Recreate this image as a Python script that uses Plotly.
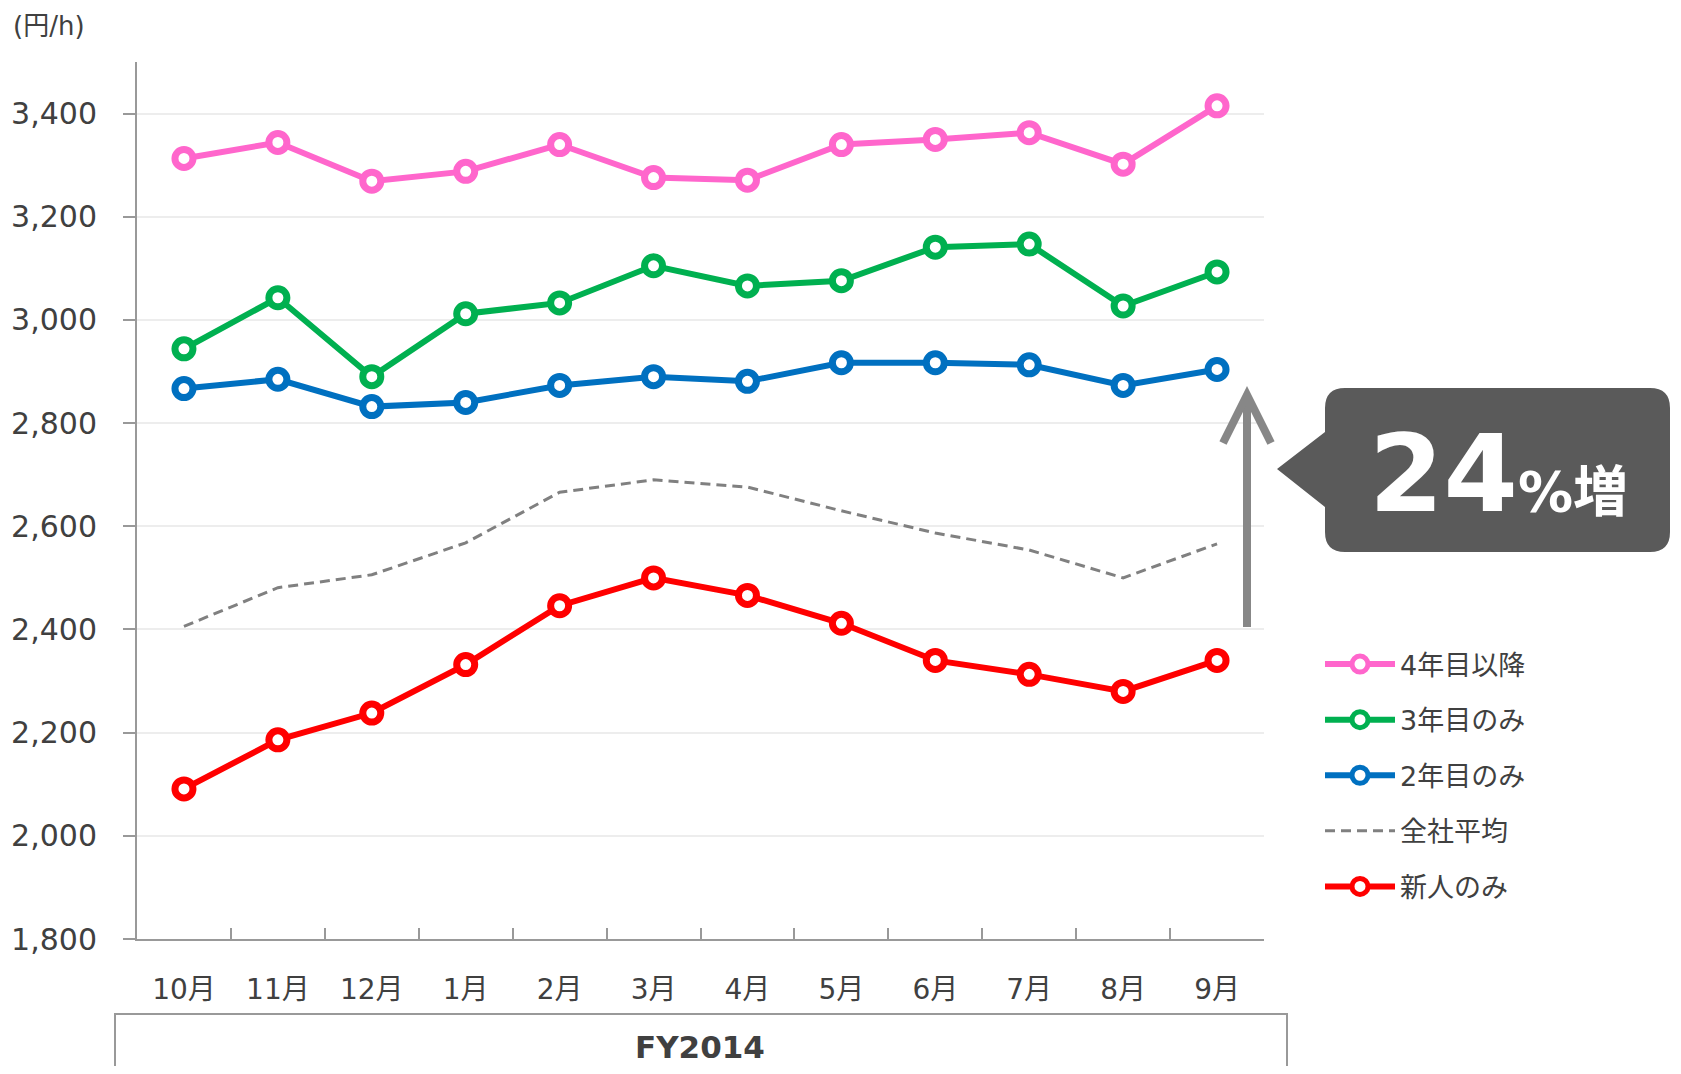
import plotly.graph_objects as go

# --- data ---
months = ["10月", "11月", "12月", "1月", "2月", "3月", "4月", "5月", "6月", "7月", "8月", "9月"]
yr4_plus = [3313, 3344, 3269, 3288, 3340, 3276, 3271, 3340, 3350, 3363, 3302, 3415]
yr3_only = [2944, 3043, 2890, 3012, 3033, 3105, 3066, 3076, 3141, 3147, 3027, 3093]
yr2_only = [2867, 2885, 2832, 2840, 2873, 2890, 2881, 2917, 2917, 2913, 2873, 2904]
company_avg = [2406, 2481, 2506, 2568, 2666, 2690, 2676, 2630, 2587, 2554, 2500, 2566]
newcomers = [2091, 2186, 2238, 2332, 2446, 2500, 2466, 2412, 2340, 2313, 2280, 2340]
y_ticks = [1800, 2000, 2200, 2400, 2600, 2800, 3000, 3200, 3400]

FONT = "DejaVu Sans, Noto Sans CJK JP"
TXT = "#404040"

# page body has an 8px margin, so the figure starts at (8, 8) in the window
OFF = 8
W, H = 1681 - 2 * OFF, 1074 - 2 * OFF
# plot area in window pixels
L, R, T, B = 137, 1264, 62, 939


def px(x):
    return (x - L) / (R - L)


def py(y):
    return (B - y) / (B - T)


fig = go.Figure()

series = [
    ("4年目以降", yr4_plus, "#FF66CC"),
    ("3年目のみ", yr3_only, "#00B050"),
    ("2年目のみ", yr2_only, "#0070C0"),
]
for name, vals, color in series:
    fig.add_trace(go.Scatter(
        x=months, y=vals, name=name, mode="lines+markers", legendgroup=name,
        line=dict(color=color, width=6),
        marker=dict(size=18, color="white", line=dict(color=color, width=7)),
        hoverinfo="skip",
    ))

fig.add_trace(go.Scatter(
    x=months, y=company_avg, name="全社平均", mode="lines", legendgroup="avg",
    line=dict(color="#808080", width=3, dash="10px,6px"),
    hoverinfo="skip",
))

fig.add_trace(go.Scatter(
    x=months, y=newcomers, name="新人のみ", mode="lines+markers", legendgroup="new",
    line=dict(color="#FF0000", width=6),
    marker=dict(size=18, color="white", line=dict(color="#FF0000", width=7)),
    hoverinfo="skip",
))

# callout box with pointer
x0, x1, y0, y1, r = 1325, 1670, 388, 552, 20
tip_x, tip_y, pt, pb = 1277, 469, 432, 507
path = (
    f"M {px(x0 + r)},{py(y0)} L {px(x1 - r)},{py(y0)} "
    f"Q {px(x1)},{py(y0)} {px(x1)},{py(y0 + r)} "
    f"L {px(x1)},{py(y1 - r)} Q {px(x1)},{py(y1)} {px(x1 - r)},{py(y1)} "
    f"L {px(x0 + r)},{py(y1)} Q {px(x0)},{py(y1)} {px(x0)},{py(y1 - r)} "
    f"L {px(x0)},{py(pb)} L {px(tip_x)},{py(tip_y)} L {px(x0)},{py(pt)} "
    f"L {px(x0)},{py(y0 + r)} Q {px(x0)},{py(y0)} {px(x0 + r)},{py(y0)} Z"
)
shapes = [
    dict(type="path", xref="paper", yref="paper", path=path,
         fillcolor="#5A5A5A", line=dict(width=0), layer="above"),
    # up arrow
    dict(type="path", xref="paper", yref="paper",
         path=f"M {px(1247)},{py(627)} L {px(1247)},{py(398)}",
         line=dict(color="#878787", width=8)),
    dict(type="path", xref="paper", yref="paper",
         path=f"M {px(1223)},{py(443)} L {px(1247)},{py(395)} L {px(1271)},{py(443)}",
         line=dict(color="#878787", width=8)),
    # FY2014 box
    dict(type="rect", xref="paper", yref="paper",
         x0=px(115), x1=px(1287), y0=py(1014), y1=py(1090),
         line=dict(color="#999999", width=2), fillcolor="rgba(0,0,0,0)"),
]

annotations = [
    dict(text="24<span style='font-size:55px'>%増</span>", xref="paper", yref="paper",
         x=px(1367), y=py(474), xanchor="left", yanchor="middle", showarrow=False,
         font=dict(family=FONT, size=107, color="white", weight="bold")),
    dict(text="FY2014", xref="paper", yref="paper", x=px(700), y=py(1047),
         xanchor="center", yanchor="middle", showarrow=False,
         font=dict(family=FONT, size=31, color=TXT, weight="bold")),
    dict(text="(円/h)", xref="paper", yref="paper", x=px(11), y=py(26),
         xanchor="left", yanchor="middle", showarrow=False,
         font=dict(family=FONT, size=26, color=TXT)),
]

fig.update_layout(
    width=W, height=H,
    margin=dict(l=L - OFF, r=W + OFF - R, t=T - OFF, b=H + OFF - B, pad=0, autoexpand=False),
    plot_bgcolor="white", paper_bgcolor="white",
    font=dict(family=FONT, color=TXT),
    showlegend=True,
    legend=dict(
        x=px(1320), y=py(640), xanchor="left", yanchor="top",
        traceorder="grouped", tracegroupgap=17.5,
        font=dict(family=FONT, size=27, color=TXT),
        itemwidth=70, bgcolor="rgba(0,0,0,0)",
    ),
    shapes=shapes,
    annotations=annotations,
)

fig.update_xaxes(
    type="category", range=[-0.5, 11.5], automargin=False,
    tickson="boundaries", ticks="inside", ticklen=11, tickwidth=1.5, tickcolor="#999999",
    showline=True, linecolor="#999999", linewidth=2,
    showgrid=False, zeroline=False,
    tickfont=dict(family=FONT, size=28, color=TXT),
    ticklabelstandoff=24,
)
fig.update_yaxes(
    range=[1800, 3500], tickvals=y_ticks, tickformat=",d", automargin=False,
    ticks="outside", ticklen=12, tickwidth=1.5, tickcolor="#999999",
    showline=True, linecolor="#999999", linewidth=2,
    showgrid=True, gridcolor="#EDEDED", gridwidth=2, zeroline=False,
    tickfont=dict(family=FONT, size=30, color=TXT),
    ticklabelstandoff=20,
)

fig.write_html("out.html")
